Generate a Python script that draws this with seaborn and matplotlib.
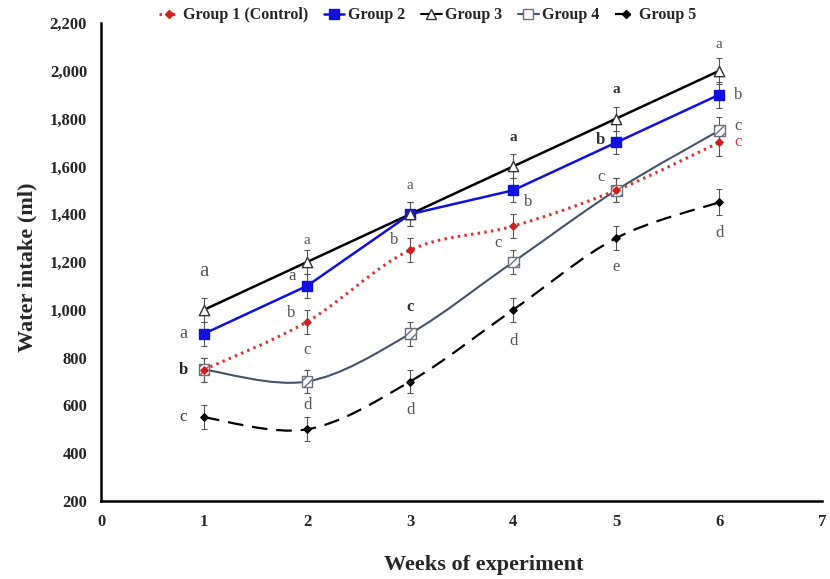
import numpy as np
import pandas as pd
import seaborn as sns
import matplotlib.pyplot as plt
from matplotlib.path import Path
from matplotlib.patches import PathPatch
from matplotlib.lines import Line2D

weeks = [1, 2, 3, 4, 5, 6]
group1 = [750, 950, 1250, 1350, 1500, 1700]
group2 = [900, 1100, 1400, 1500, 1700, 1900]
group3 = [1000, 1200, 1400, 1600, 1800, 2000]
group4 = [750, 700, 900, 1200, 1500, 1750]
group5 = [550, 500, 700, 1000, 1300, 1450]
err = [50, 50, 50, 50, 50, 55]

# significance letters: (x, y, text, bold, colour, size)
letters = [
    (1, 1160, "a", False, "#555555", 15), (0.8, 900, "a", False, "#555555", 13),
    (0.8, 750, "b", True, "#222222", 12), (0.8, 550, "c", False, "#333333", 12),
    (2, 1290, "a", False, "#555555", 11), (1.85, 1140, "a", False, "#555555", 12),
    (1.85, 985, "b", False, "#555555", 12), (2, 830, "c", False, "#555555", 12),
    (2, 600, "d", False, "#555555", 12),
    (3, 1520, "a", False, "#555555", 11), (2.85, 1290, "b", False, "#555555", 12),
    (3, 1010, "c", True, "#333333", 12), (3, 580, "d", False, "#555555", 12),
    (4, 1720, "a", True, "#333333", 11), (4.15, 1450, "b", False, "#555555", 12),
    (3.85, 1280, "c", False, "#555555", 12), (4, 870, "d", False, "#555555", 12),
    (5, 1920, "a", True, "#333333", 11), (4.85, 1710, "b", True, "#333333", 12),
    (4.85, 1555, "c", False, "#555555", 12), (5, 1180, "e", False, "#555555", 12),
    (6, 2110, "a", False, "#555555", 11), (6.18, 1900, "b", False, "#555555", 12),
    (6.18, 1770, "c", False, "#555555", 12), (6.18, 1700, "c", False, "#c04040", 12),
    (6, 1320, "d", False, "#555555", 12),
]

sns.set_theme(style="white")
plt.rcParams['font.family'] = ['Liberation Serif', 'DejaVu Serif']

fig = plt.figure(figsize=(8.3, 5.79), dpi=100)
ax = fig.add_axes([0.1217, 0.1347, 0.869, 0.8256])


def smooth_line(ax, xs, ys, **kw):
    # Catmull-Rom style bezier through the data points (like Excel smoothed lines)
    p = np.column_stack([xs, ys]).astype(float)
    p_ext = np.vstack([p[0], p, p[-1]])
    verts = [tuple(p[0])]
    codes = [Path.MOVETO]
    for i in range(1, len(p_ext) - 2):
        c1 = p_ext[i] + (p_ext[i + 1] - p_ext[i - 1]) / 6
        c2 = p_ext[i + 1] - (p_ext[i + 2] - p_ext[i]) / 6
        verts += [tuple(c1), tuple(c2), tuple(p_ext[i + 1])]
        codes += [Path.CURVE4] * 3
    ax.add_patch(PathPatch(Path(verts, codes), fill=False, **kw))


df = pd.DataFrame({"week": weeks * 2,
                   "value": group3 + group2,
                   "group": ["Group 3"] * 6 + ["Group 2"] * 6})

# error bars
for vals in [group1, group2, group3, group4, group5]:
    ax.errorbar(weeks, vals, yerr=err, fmt="none", ecolor="#555555", elinewidth=0.8,
                capsize=2.5, capthick=0.8, zorder=2)

# smoothed series
smooth_line(ax, weeks, group5, edgecolor="black", lw=1.6, linestyle=(0, (7, 4)), zorder=3)
smooth_line(ax, weeks, group4, edgecolor="#44546A", lw=1.5, zorder=3)
smooth_line(ax, weeks, group1, edgecolor="#E03030", lw=2.2, linestyle=(0, (0.8, 1.4)), zorder=3)

# straight series
sns.lineplot(data=df, x="week", y="value", hue="group",
             palette={"Group 3": "black", "Group 2": "#1010E0"},
             linewidth=1.8, legend=False, ax=ax, zorder=4)

ax.scatter(weeks, group5, marker="D", s=14, color="black", zorder=5)
ax.scatter(weeks, group4, marker="s", s=60, facecolor="white", edgecolor="#6a7080", hatch="////", linewidth=1, zorder=5)
ax.scatter(weeks, group1, marker="D", s=14, color="#D02020", zorder=6)
ax.scatter(weeks, group2, marker="s", s=60, color="#1010E0", zorder=6)
ax.scatter(weeks, group3, marker="^", s=55, facecolor="white", edgecolor="#333333", linewidth=1, zorder=7)

for x, y, t, b, c, s in letters:
    ax.text(x, y, t, ha="center", va="center", fontsize=s, color=c,
            fontweight="bold" if b else "normal", zorder=8)

ax.set_xlim(0, 7)
ax.set_ylim(200, 2200)
ax.set_xticks(range(0, 8))
ax.set_yticks(range(200, 2201, 200))
ax.set_yticklabels([f"{v:,}" for v in range(200, 2201, 200)])
ax.tick_params(axis="both", length=0, labelsize=12)
ax.tick_params(axis="y", pad=10)
ax.tick_params(axis="x", pad=9)
for lbl in ax.get_xticklabels() + ax.get_yticklabels():
    lbl.set_fontweight("bold")
for side in ["top", "right"]:
    ax.spines[side].set_visible(False)
for side in ["left", "bottom"]:
    ax.spines[side].set_color("black")
    ax.spines[side].set_linewidth(1.8)

ax.set_xlabel("Weeks of experiment", fontsize=16, fontweight="bold")
ax.set_ylabel("Water intake (ml)", fontsize=16, fontweight="bold")
ax.xaxis.set_label_coords(0.53, -0.113)
ax.yaxis.set_label_coords(-0.088, 0.49)

handles = [
    Line2D([], [], color="#E03030", lw=2.2, linestyle=(0, (0.8, 1.4)), marker="D", ms=4, mfc="#D02020", mec="#D02020"),
    Line2D([], [], color="#1010E0", lw=1.8, marker="s", ms=7),
    Line2D([], [], color="black", lw=1.5, marker="^", ms=7, mfc="white", mec="#333333"),
    Line2D([], [], color="#44546A", lw=1.5, marker="s", ms=7, mfc="white", mec="#6a7080"),
    Line2D([], [], color="black", lw=1.6, linestyle=(0, (7, 4)), marker="D", ms=4),
]
labels = ["Group 1 (Control)", "Group 2", "Group 3", "Group 4", "Group 5"]
fig.legend(handles, labels, loc="upper center", bbox_to_anchor=(0.515, 1.012), ncol=5,
           frameon=False, handlelength=1.3, handletextpad=0.2, columnspacing=1.0,
           prop={"family": "Liberation Serif", "weight": "bold", "size": 11.5})

fig.savefig("out.png", dpi=100)
